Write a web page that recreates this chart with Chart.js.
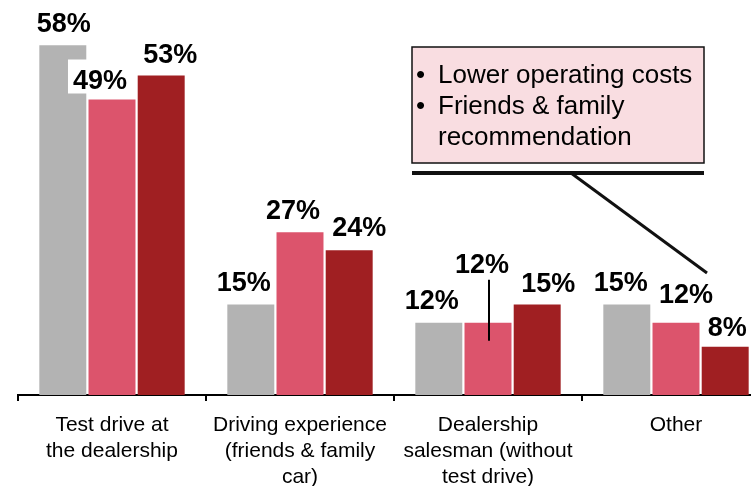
<!DOCTYPE html>
<html>
<head>
<meta charset="utf-8">
<title>Purchase drivers</title>
<script src="https://cdn.jsdelivr.net/npm/chart.js@4.4.1/dist/chart.umd.min.js"></script>
<style>
  html, body { margin: 0; padding: 0; background: #fff; overflow: hidden; }
  #wrap { position: relative; width: 780px; height: 486px; }
</style>
</head>
<body>
<div id="wrap"><canvas id="chart"></canvas></div>
<script>
const categories = [
  ['Test drive at', 'the dealership'],
  ['Driving experience', '(friends & family', 'car)'],
  ['Dealership', 'salesman (without', 'test drive)'],
  ['Other'],
]
const greyValues = [58, 15, 12, 15]
const pinkValues = [49, 27, 12, 12]
const redValues = [53, 24, 15, 8]
const calloutItems = [
  { bullet: true, text: 'Lower operating costs' },
  { bullet: true, text: 'Friends & family' },
  { bullet: false, text: 'recommendation' },
]

const FONT = '"Liberation Sans", Arial, sans-serif'

// value labels sit above each bar; shifts nudge them off the bar centre
const valueLabels = {
  id: 'valueLabels',
  afterDatasetsDraw(chart, args, opts) {
    const ctx = chart.ctx
    ctx.save()
    ctx.font = 'bold 27px ' + FONT
    ctx.textAlign = 'center'
    ctx.textBaseline = 'alphabetic'
    chart.data.datasets.forEach((ds, di) => {
      const meta = chart.getDatasetMeta(di)
      meta.data.forEach((el, i) => {
        const [dx, dy] = opts.shifts[di][i]
        const txt = ds.data[i] + '%'
        const x = el.x + dx, y = el.y + dy
        const w = ctx.measureText(txt).width
        ctx.fillStyle = '#fff'
        ctx.fillRect(x - w / 2 - 5, y - 29, w + 10, 34)
        ctx.fillStyle = '#000'
        ctx.fillText(txt, x, y)
        if (opts.leader && opts.leader[0] === di && opts.leader[1] === i) {
          ctx.strokeStyle = '#000'
          ctx.lineWidth = 2
          ctx.beginPath()
          ctx.moveTo(el.x + 1, y + 7)
          ctx.lineTo(el.x + 1, el.y + 18)
          ctx.stroke()
        }
      })
    })
    ctx.restore()
  },
}

// pink note box with an underline and a pointer to the "Other" group
const callout = {
  id: 'callout',
  afterDraw(chart) {
    const ctx = chart.ctx
    const left = 412, top = 47, w = 292, h = 116
    ctx.save()
    ctx.fillStyle = '#f9dde1'
    ctx.fillRect(left, top, w, h)
    ctx.strokeStyle = '#111'
    ctx.lineWidth = 1.5
    ctx.strokeRect(left, top, w, h)

    ctx.fillStyle = '#000'
    ctx.font = '26px ' + FONT
    ctx.textBaseline = 'alphabetic'
    calloutItems.forEach((item, i) => {
      const y = top + 36 + i * 31
      if (item.bullet) ctx.fillText('\u2022', left + 4, y)
      ctx.fillText(item.text, left + 26, y)
    })

    ctx.lineWidth = 4
    ctx.beginPath()
    ctx.moveTo(left, top + h + 10)
    ctx.lineTo(left + w, top + h + 10)
    ctx.stroke()

    const other = chart.getDatasetMeta(1).data[3]
    ctx.lineWidth = 3
    ctx.beginPath()
    ctx.moveTo(571, top + h + 10)
    ctx.lineTo(other.x + 31, 273)
    ctx.stroke()
    ctx.restore()
  },
}

new Chart(document.getElementById('chart'), {
  type: 'bar',
  data: {
    labels: categories,
    datasets: [
      { label: 'A', data: greyValues, backgroundColor: '#b3b3b3' },
      { label: 'B', data: pinkValues, backgroundColor: '#dc546c' },
      { label: 'C', data: redValues, backgroundColor: '#a01f22' },
    ],
  },
  options: {
    responsive: true,
    maintainAspectRatio: false,
    animation: false,
    layout: { padding: { left: 18, right: 10, top: 0, bottom: 0 } },
    categoryPercentage: 0.785,
    barPercentage: 0.955,
    plugins: {
      legend: { display: false },
      tooltip: { enabled: false },
      valueLabels: {
        shifts: [
          [[1, -13], [-7, -14], [-7, -14], [-6, -14]],
          [[-12, -11], [-7, -13], [-6, -50], [10, -20]],
          [[9, -12], [10, -14], [11, -13], [2, -11]],
        ],
        leader: [1, 2],
      },
    },
    scales: {
      x: {
        offset: true,
        border: { display: true, color: '#000', width: 2 },
        grid: { offset: true, drawOnChartArea: false, drawTicks: true, tickLength: 6, color: '#000', lineWidth: 2 },
        ticks: { color: '#000', padding: 11, maxRotation: 0, autoSkip: false, font: { family: FONT, size: 21, lineHeight: 1.24 } },
        afterFit(scale) { scale.height = 91 },
      },
      y: { display: false, min: 0, max: 65.5 },
    },
  },
  plugins: [valueLabels, callout],
})
</script>
</body>
</html>
